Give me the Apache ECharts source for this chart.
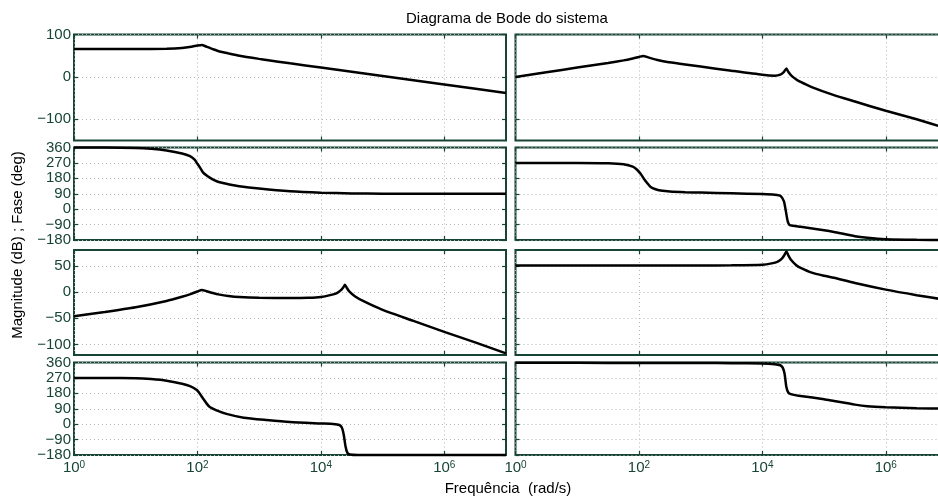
<!DOCTYPE html>
<html>
<head>
<meta charset="utf-8">
<title>Diagrama de Bode do sistema</title>
<script src="https://cdn.jsdelivr.net/npm/echarts@6/dist/echarts.min.js"></script>
<style>
html, body { margin: 0; padding: 0; background: #fff; }
#bode { width: 938px; height: 501px; }
</style>
</head>
<body>
<div id="bode"></div>
<script>
// frequências em log10(rad/s), lidas do gráfico
// linha 1: magnitude (dB) saída 1
const w_m11 = [0, 0.5, 1, 1.5, 1.75, 1.9, 2.0, 2.07, 2.15, 2.25, 2.36, 2.5, 2.68, 3, 3.12, 3.5, 4, 5, 6, 7];
const m11 = [66, 66, 66, 66.3, 68, 71, 74, 75.5, 71, 65.5, 60, 55.5, 50, 42.5, 40, 32, 22, 2, -18, -38];
const w_m12 = [0, 0.5, 1, 1.5, 1.75, 1.9, 2.0, 2.07, 2.15, 2.3, 2.46, 2.75, 3, 3.5, 4, 4.2, 4.3, 4.35, 4.39, 4.42, 4.47, 4.55, 4.62, 4.8, 5.16, 5.5, 6, 6.5, 7];
const m12 = [0, 11, 22, 33, 39, 43.5, 47, 49.5, 46, 40, 35, 29.5, 24.5, 14.5, 5, 3, 6, 12, 20, 12, 3, -6, -12, -24, -43, -58, -80, -100, -122];

// linha 2: fase (deg) saída 1
const w_p11 = [0, 0.5, 1, 1.25, 1.5, 1.75, 1.88, 1.95, 2.0, 2.05, 2.09, 2.15, 2.2, 2.28, 2.36, 2.5, 2.68, 3, 3.5, 4, 4.5, 5, 6, 7];
const p11 = [360, 359.5, 357, 352, 342, 325, 309, 290, 265, 238, 215, 196, 184, 168, 157, 146, 134, 120, 104, 96, 92, 90.7, 90, 90];
const w_p12 = [0, 1, 1.5, 1.75, 1.9, 1.97, 2.03, 2.08, 2.14, 2.19, 2.27, 2.35, 2.5, 2.75, 3, 3.5, 4, 4.2, 4.3, 4.35, 4.38, 4.41, 4.44, 4.5, 4.62, 5, 5.16, 5.5, 5.7, 6, 6.5, 7];
const p12 = [270, 270, 268, 262, 248, 230, 205, 178, 150, 129, 116, 109, 103, 99, 97, 93, 88, 84, 76, 45, -10, -70, -92, -97, -103, -123, -133, -158, -167, -175, -179, -180];

// linha 3: magnitude (dB) saída 2
const w_m21 = [0, 0.5, 1, 1.5, 1.75, 1.9, 2.0, 2.07, 2.15, 2.25, 2.36, 2.5, 2.68, 3, 3.5, 3.8, 4, 4.15, 4.26, 4.33, 4.37, 4.39, 4.42, 4.46, 4.55, 4.7, 5, 5.5, 6, 6.5, 7];
const m21 = [-46, -38, -29, -17, -9, -3.5, 1, 4, 1.5, -2, -5, -7.5, -9.5, -11, -11.5, -11, -9.5, -6, -2, 4, 10, 14, 8, 1, -8, -18, -34, -55, -76, -96, -117];
const w_m22 = [0, 1, 2, 3, 3.5, 4, 4.15, 4.25, 4.32, 4.36, 4.39, 4.42, 4.46, 4.55, 4.62, 4.8, 5, 5.16, 5.5, 6, 6.5, 7];
const m22 = [50.5, 50.5, 50.5, 50.6, 50.9, 52, 54.5, 58, 64, 71, 77, 70, 62, 51, 46, 37, 31, 27, 17, 4.5, -6, -15.5];

// linha 4: fase (deg) saída 2
const w_p21 = [0, 0.5, 1, 1.25, 1.5, 1.75, 1.88, 1.99, 2.05, 2.1, 2.15, 2.2, 2.3, 2.47, 2.75, 3.12, 3.5, 4, 4.2, 4.3, 4.34, 4.37, 4.4, 4.43, 4.47, 4.6, 7];
const p21 = [270, 270, 268, 263, 254, 236, 222, 199, 172, 145, 120, 100, 82, 60, 38, 24, 12, 4, 1, -5, -20, -60, -130, -168, -177, -180, -180];
const w_p22 = [0, 1, 2, 3, 3.5, 4, 4.2, 4.29, 4.33, 4.36, 4.39, 4.42, 4.46, 4.55, 4.62, 5, 5.16, 5.5, 5.7, 6, 6.5, 7];
const p22 = [358, 358, 357.5, 357, 356, 354, 350, 344, 330, 294, 215, 185, 175, 168, 165, 145, 135, 114, 105, 99, 93, 91];

// ticks
const freqTicks = [0, 2, 4, 6];
const magTicks1 = [-100, 0, 100];
const magTicks2 = [-100, -50, 0, 50];
const phaseTicks = [-180, -90, 0, 90, 180, 270, 360];

const axisColor = '#174535';
const font = '"Liberation Sans", Arial, Helvetica, sans-serif';

// layout (px)
const colLeft = [74, 515.5];
const colWidth = 432;
const rowTop = [34.5, 147.5, 250, 362.5];
const rowHeight = [106, 92.5, 105, 92.5];
const rowRange = [[-150, 100], [-180, 360], [-120, 80], [-180, 360]];
const rowTicks = [magTicks1, phaseTicks, magTicks2, phaseTicks];

const panels = [
  { row: 0, col: 0, w: w_m11, v: m11 },
  { row: 0, col: 1, w: w_m12, v: m12 },
  { row: 1, col: 0, w: w_p11, v: p11 },
  { row: 1, col: 1, w: w_p12, v: p12 },
  { row: 2, col: 0, w: w_m21, v: m21 },
  { row: 2, col: 1, w: w_m22, v: m22 },
  { row: 3, col: 0, w: w_p21, v: p21 },
  { row: 3, col: 1, w: w_p22, v: p22 }
];

const dotted = { color: '#b5b5b5', width: 1, type: [1, 3] };
const tickStyle = { color: axisColor, width: 1.2 };
const fmtNum = v => (v < 0 ? '\u2212' + Math.abs(v) : String(v));

let grid = [], xAxis = [], yAxis = [], series = [];

panels.forEach((p, i) => {
  grid.push({
    left: colLeft[p.col], top: rowTop[p.row],
    width: colWidth, height: rowHeight[p.row],
    show: true, borderColor: axisColor, borderWidth: 2,
    containLabel: false, outerBoundsMode: 'none'
  });
  // eixo x de baixo (com grade) e de cima (só marcas)
  xAxis.push({
    type: 'value', gridIndex: i, min: 0, max: 7, position: 'bottom',
    axisLine: { show: false, onZero: false },
    axisTick: { show: true, inside: true, length: 4, customValues: freqTicks, lineStyle: tickStyle },
    axisLabel: {
      show: p.row === 3, customValues: freqTicks, margin: 5,
      formatter: v => '{b|10}{s|' + v + '}',
      rich: {
        b: { fontSize: 15, color: axisColor, fontFamily: font, verticalAlign: 'bottom', lineHeight: 15 },
        s: { fontSize: 10, color: axisColor, fontFamily: font, verticalAlign: 'top', lineHeight: 10, padding: [0, 0, 8, 0] }
      }
    },
    splitLine: { show: true, lineStyle: dotted }
  });
  xAxis.push({
    type: 'value', gridIndex: i, min: 0, max: 7, position: 'top',
    axisLine: { show: false, onZero: false },
    axisTick: { show: true, inside: true, length: 4, customValues: freqTicks, lineStyle: tickStyle },
    axisLabel: { show: false }, splitLine: { show: false }
  });
  const yr = rowRange[p.row];
  yAxis.push({
    type: 'value', gridIndex: i, min: yr[0], max: yr[1], position: 'left',
    axisLine: { show: false, onZero: false },
    axisTick: { show: true, inside: true, length: 4, customValues: rowTicks[p.row], lineStyle: tickStyle },
    axisLabel: {
      show: p.col === 0, customValues: rowTicks[p.row], margin: 3,
      color: axisColor, fontSize: 15, fontFamily: font, formatter: fmtNum
    },
    splitLine: { show: true, lineStyle: dotted }
  });
  yAxis.push({
    type: 'value', gridIndex: i, min: yr[0], max: yr[1], position: 'right',
    axisLine: { show: false, onZero: false },
    axisTick: { show: true, inside: true, length: 4, customValues: rowTicks[p.row], lineStyle: tickStyle },
    axisLabel: { show: false }, splitLine: { show: false }
  });
  series.push({
    type: 'line', xAxisIndex: 2 * i, yAxisIndex: 2 * i,
    data: p.w.map((w, k) => [w, p.v[k]]),
    showSymbol: false, smooth: 0.2, clip: false,
    lineStyle: { color: '#000', width: 2.5 },
    z: 5
  });
});

const chart = echarts.init(document.getElementById('bode'));
chart.setOption({
  animation: false,
  backgroundColor: '#fff',
  title: {
    text: 'Diagrama de Bode do sistema',
    left: 401, top: 6,
    textStyle: { fontSize: 15, fontWeight: 'normal', color: '#000', fontFamily: font }
  },
  grid: grid,
  xAxis: xAxis,
  yAxis: yAxis,
  series: series,
  graphic: [
    {
      type: 'text', x: 508, y: 489,
      style: { text: 'Frequência  (rad/s)', fill: '#000', fontSize: 15, fontFamily: font, align: 'center', verticalAlign: 'middle', textAlign: 'center', textVerticalAlign: 'middle' }
    },
    {
      type: 'text', x: 18, y: 245, rotation: Math.PI / 2,
      style: { text: 'Magnitude (dB) ; Fase (deg)', fill: '#000', fontSize: 15, fontFamily: font, align: 'center', verticalAlign: 'middle', textAlign: 'center', textVerticalAlign: 'middle' }
    }
  ]
});
</script>
</body>
</html>
